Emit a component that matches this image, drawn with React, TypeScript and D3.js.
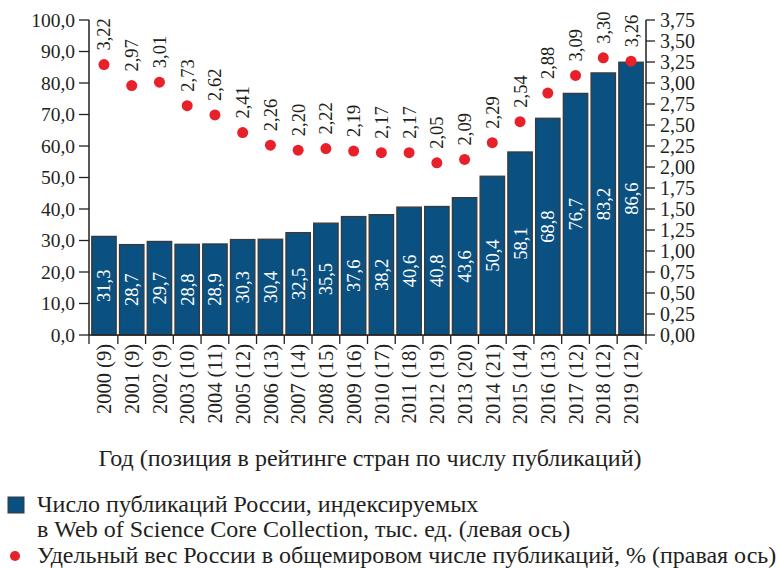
import React from "react";
import * as d3 from "d3";

const years = ["2000","2001","2002","2003","2004","2005","2006","2007","2008","2009","2010","2011","2012","2013","2014","2015","2016","2017","2018","2019"];
const ranks = [9,9,9,10,11,12,13,14,15,16,17,18,19,20,21,14,13,12,12,12];
const publications = [31.3,28.7,29.7,28.8,28.9,30.3,30.4,32.5,35.5,37.6,38.2,40.6,40.8,43.6,50.4,58.1,68.8,76.7,83.2,86.6];
const shares = [3.22,2.97,3.01,2.73,2.62,2.41,2.26,2.20,2.22,2.19,2.17,2.17,2.05,2.09,2.29,2.54,2.88,3.09,3.30,3.26];
const leftTicks = [0,10,20,30,40,50,60,70,80,90,100];
const rightTicks = [0,0.25,0.5,0.75,1,1.25,1.5,1.75,2,2.25,2.5,2.75,3,3.25,3.5,3.75];
const xTitle = "Год (позиция в рейтинге стран по числу публикаций)";
const legend1a = "Число публикаций России, индексируемых";
const legend1b = "в Web of Science Core Collection, тыс. ед. (левая ось)";
const legend2 = "Удельный вес России в общемировом числе публикаций, % (правая ось)";

const W = 779, H = 568;
const X0 = 89, X1 = 646, YT = 20, YB = 335;
const BAR = "#0a5080";
const RED = "#e8202a";
const FONT = "'Liberation Serif', 'Times New Roman', serif";
const INK = "#231f20";

export default function App() {
  const x = d3.scaleBand<string>().domain(years).range([X0, X1]).paddingInner(0.12).paddingOuter(0.1);
  const yL = d3.scaleLinear().domain([0, 100]).range([YB, YT]);
  const yR = d3.scaleLinear().domain([0, 3.75]).range([YB, YT]);
  const fmt1 = (v: number) => d3.format(".1f")(v).replace(".", ",");
  const fmt2 = (v: number) => d3.format(".2f")(v).replace(".", ",");
  const step = x.step();
  const bw = x.bandwidth();
  const tickXs = years.map((y) => (x(y) as number) - (step * 0.12) / 2);
  tickXs[0] = X0;
  tickXs.push(X1);

  return (
    <div style={{ position: "absolute", left: 0, top: 0 }}>
      <svg width={W} height={H} style={{ display: "block", fontFamily: FONT }}>
        <rect width={W} height={H} fill="#fff" />
        {/* bars */}
        {years.map((y, i) => (
          <g key={"b" + y}>
            <rect x={x(y)} y={yL(publications[i])} width={bw} height={YB - yL(publications[i])}
              fill={BAR} stroke="#3a3a3a" strokeWidth={1.3} />
            <text transform={`translate(${(x(y) as number) + bw / 2},${(yL(publications[i]) + YB) / 2}) rotate(-90)`}
              dy="0.35em" textAnchor="middle" fill="#fff" fontSize={18.5}>{fmt1(publications[i])}</text>
          </g>
        ))}
        {/* points */}
        {years.map((y, i) => {
          const cx = (x(y) as number) + bw / 2;
          const cy = yR(shares[i]);
          return (
            <g key={"p" + y}>
              <circle cx={cx} cy={cy} r={5.5} fill={RED} />
              <text transform={`translate(${cx},${cy - 14}) rotate(-90)`} dy="0.35em" textAnchor="start"
                fill={INK} fontSize={18.5}>{fmt2(shares[i])}</text>
            </g>
          );
        })}
        {/* left axis */}
        <line x1={X0} x2={X0} y1={YT} y2={YB} stroke={INK} strokeWidth={1.5} />
        {leftTicks.map((t) => (
          <g key={"l" + t}>
            <line x1={X0 - 10} x2={X0} y1={yL(t)} y2={yL(t)} stroke={INK} strokeWidth={1.3} />
            <text x={X0 - 14} y={yL(t)} dy="0.35em" textAnchor="end" fontSize={19.5} fill={INK}>{fmt1(t)}</text>
          </g>
        ))}
        {/* right axis */}
        <line x1={X1} x2={X1} y1={YT} y2={YB} stroke={INK} strokeWidth={1.5} />
        {rightTicks.map((t) => (
          <g key={"r" + t}>
            <line x1={X1} x2={X1 + 9} y1={yR(t)} y2={yR(t)} stroke={INK} strokeWidth={1.3} />
            <text x={X1 + 14} y={yR(t)} dy="0.35em" textAnchor="start" fontSize={20} fill={INK}>{fmt2(t)}</text>
          </g>
        ))}
        {/* x axis */}
        <line x1={X0} x2={X1} y1={YB} y2={YB} stroke={INK} strokeWidth={1.5} />
        {tickXs.map((tx, i) => (
          <line key={"xt" + i} x1={tx} x2={tx} y1={YB} y2={YB + 9} stroke={INK} strokeWidth={1.3} />
        ))}
        {years.map((y, i) => (
          <text key={"xl" + y} transform={`translate(${(x(y) as number) + bw / 2},${YB + 9}) rotate(-90)`}
            dy="0.35em" textAnchor="end" fontSize={20.5} fill={INK}>{`${y} (${ranks[i]})`}</text>
        ))}
        <text x={370} y={466} textAnchor="middle" fontSize={24} fill={INK}>{xTitle}</text>
        {/* legend */}
        <rect x={8} y={497} width={16} height={16} fill={BAR} stroke="#3a3a3a" strokeWidth={1} />
        <text x={37} y={512} fontSize={24} fill={INK}>{legend1a}</text>
        <text x={37} y={537} fontSize={24} fill={INK}>{legend1b}</text>
        <circle cx={15} cy={556} r={5} fill={RED} />
        <text x={37} y={563} fontSize={24} fill={INK}>{legend2}</text>
      </svg>
    </div>
  );
}
